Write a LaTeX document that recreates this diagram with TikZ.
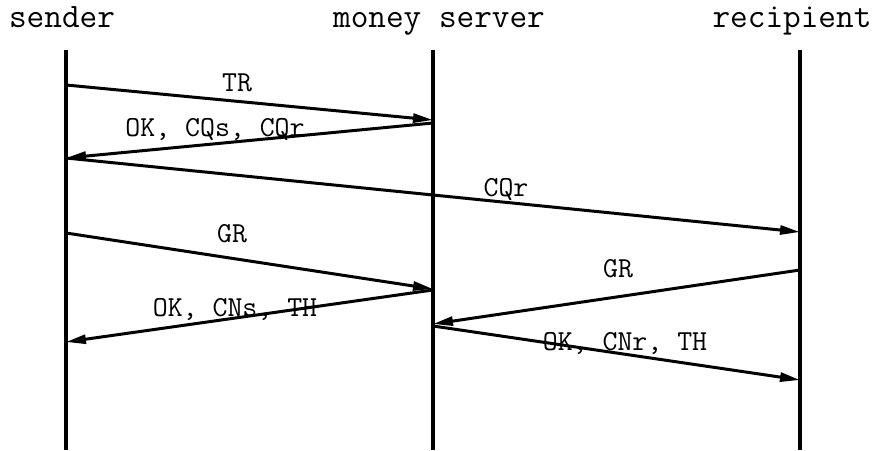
\documentclass[tikz,border=0pt]{standalone}
\usepackage{fontspec}
\usetikzlibrary{arrows.meta}
\tikzstyle{lifeline}=[line width=2pt]
\tikzstyle{msg}=[-{Triangle[length=0.4cm, width=0.18cm]}, line width=1.7pt]
\tikzstyle{party}=[anchor=base, inner sep=0pt, font=\ttfamily\fontsize{19.5}{19.5}\selectfont]
\tikzstyle{lbl}=[anchor=base, inner sep=0pt, font=\ttfamily\fontsize{16.5}{16.5}\selectfont]

\begin{document}
\begin{tikzpicture}
  \useasboundingbox (0,0) rectangle (17.66,9);

  % the three parties
  \node (snd)[party] at (1.24,8.44) {sender};
  \node (srv)[party] at (8.78,8.44) {money server};
  \node (rcp)[party] at (15.84,8.44) {recipient};

  \coordinate (sndTop) at (1.32,8);  \coordinate (sndBot) at (1.32,0);
  \coordinate (srvTop) at (8.66,8);  \coordinate (srvBot) at (8.66,0);
  \coordinate (rcpTop) at (16.0,8);  \coordinate (rcpBot) at (16.0,0);
  \draw[lifeline] (sndTop) -- (sndBot);
  \draw[lifeline] (srvTop) -- (srvBot);
  \draw[lifeline] (rcpTop) -- (rcpBot);

  % message end points on the lifelines
  \coordinate (s1) at (1.32,7.30);   \coordinate (m1) at (8.66,6.60);
  \coordinate (m2) at (8.66,6.54);   \coordinate (s2) at (1.32,5.84);
  \coordinate (r3) at (16.0,4.36);
  \coordinate (s4) at (1.32,4.34);   \coordinate (m4) at (8.66,3.22);
  \coordinate (m5) at (8.66,3.20);   \coordinate (s5) at (1.32,2.16);
  \coordinate (r6) at (16.0,3.60);   \coordinate (m6) at (8.66,2.52);
  \coordinate (m7) at (8.66,2.48);   \coordinate (r7) at (16.0,1.40);

  \draw[msg] (s1) -- (m1);
  \draw[msg] (m2) -- (s2);
  \draw[msg] (s2) -- (r3);
  \draw[msg] (s4) -- (m4);
  \draw[msg] (m5) -- (s5);
  \draw[msg] (r6) -- (m6);
  \draw[msg] (m7) -- (r7);

  % message labels
  \node (l1)[lbl] at (4.74,7.16) {TR};
  \node (l2)[lbl] at (4.30,6.26) {OK, CQs, CQr};
  \node (l3)[lbl] at (10.12,5.06) {CQr};
  \node (l4)[lbl] at (4.64,4.14) {GR};
  \node (l5)[lbl] at (4.70,2.66) {OK, CNs, TH};
  \node (l6)[lbl] at (12.36,3.46) {GR};
  \node (l7)[lbl] at (12.50,2.00) {OK, CNr, TH};
\end{tikzpicture}
\end{document}
